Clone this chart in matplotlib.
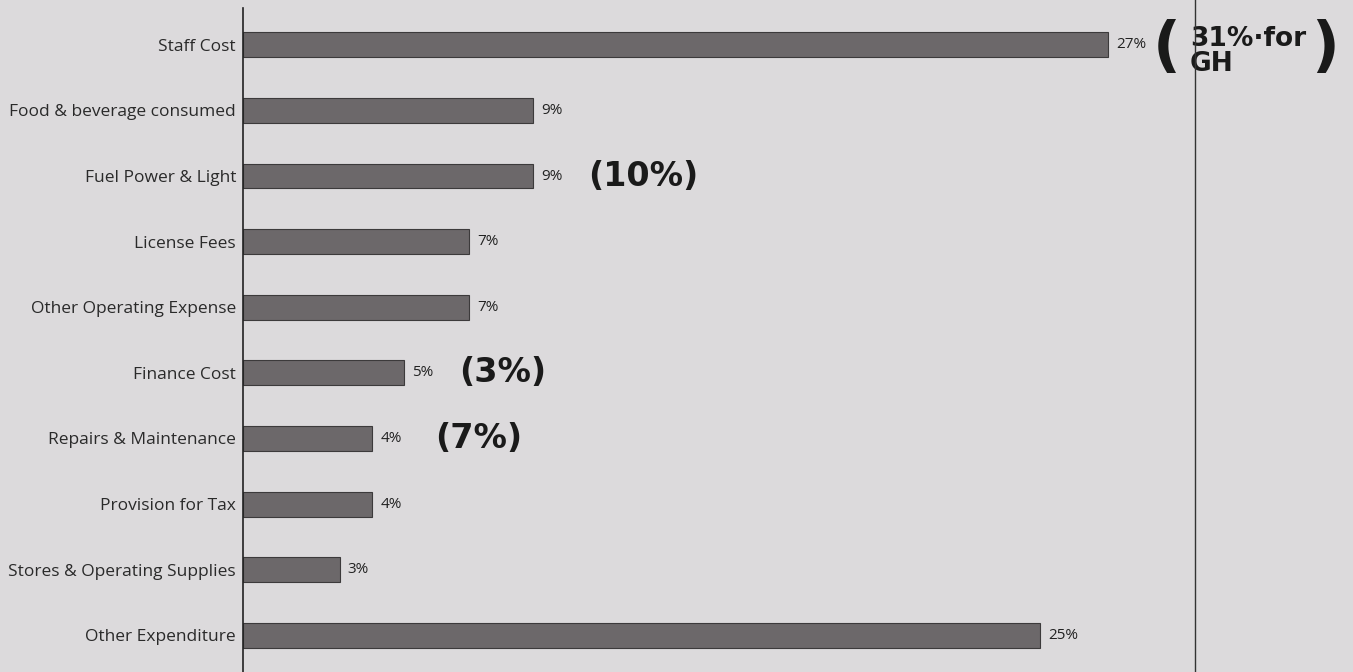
import matplotlib
matplotlib.use("Agg")
import matplotlib.pyplot as plt
from matplotlib.lines import Line2D

# Data (share of total expenditure, %)
categories = ["Staff Cost", "Food & beverage consumed", "Fuel Power & Light",
              "License Fees", "Other Operating Expense", "Finance Cost",
              "Repairs & Maintenance", "Provision for Tax",
              "Stores & Operating Supplies", "Other Expenditure"]
shares = [26.8, 9.0, 9.0, 7.0, 7.0, 5.0, 4.0, 4.0, 3.0, 24.7]
value_labels = ["27%", "9%", "9%", "7%", "7%", "5%", "4%", "4%", "3%", "25%"]

# handwritten notes next to some bars: (category index, text)
notes = [(2, "(10%)"), (5, "(3%)"), (6, "(7%)")]
note_gh = "31%·for\nGH"

paper = "#dcdadc"
bar_col = "#6c686a"
ink = "#1a1a1a"

fig = plt.figure(figsize=(13.53, 6.72), dpi=100, facecolor=paper)
ax = fig.add_axes([243 / 1353, 0, 1110 / 1353, 0.988])
ax.set_facecolor(paper)

ypos = list(range(len(categories)))
ax.barh(ypos, shares, height=0.38, color=bar_col, edgecolor="#3c3a3b", linewidth=0.8)

for y, v, lab in zip(ypos, shares, value_labels):
    ax.text(v + 0.25, y, lab, va="center", ha="left", fontsize=11,
            family="Open Sans", color="#222222")

ax.set_yticks(ypos)
ax.set_yticklabels(categories, family="Open Sans", fontsize=12.5, color="#2a2a2a")
ax.tick_params(axis="y", length=0, pad=5)
ax.set_xticks([])
ax.set_xlim(0, 34.4)
ax.set_ylim(9.56, -0.56)
for s in ["top", "right", "bottom"]:
    ax.spines[s].set_visible(False)
ax.spines["left"].set_color("#222222")
ax.spines["left"].set_linewidth(1.2)

# vertical rule from the printed page on the right
fig.add_artist(Line2D([1195 / 1353, 1195 / 1353], [0, 1], color="#333333", lw=1))

# handwritten annotations
hand = dict(family="DejaVu Sans", fontweight="bold", color=ink, va="center", ha="left")
xs = {2: 10.7, 5: 6.7, 6: 5.95}
for idx, txt in notes:
    ax.text(xs[idx], idx, txt, fontsize=24, **hand)
ax.text(28.2, 0.05, "(", fontsize=44, **hand)
ax.text(29.35, 0.1, note_gh, fontsize=19, linespacing=0.95, **hand)
ax.text(33.1, 0.05, ")", fontsize=44, **hand)

fig.savefig("out.png", dpi=100, facecolor=paper)
